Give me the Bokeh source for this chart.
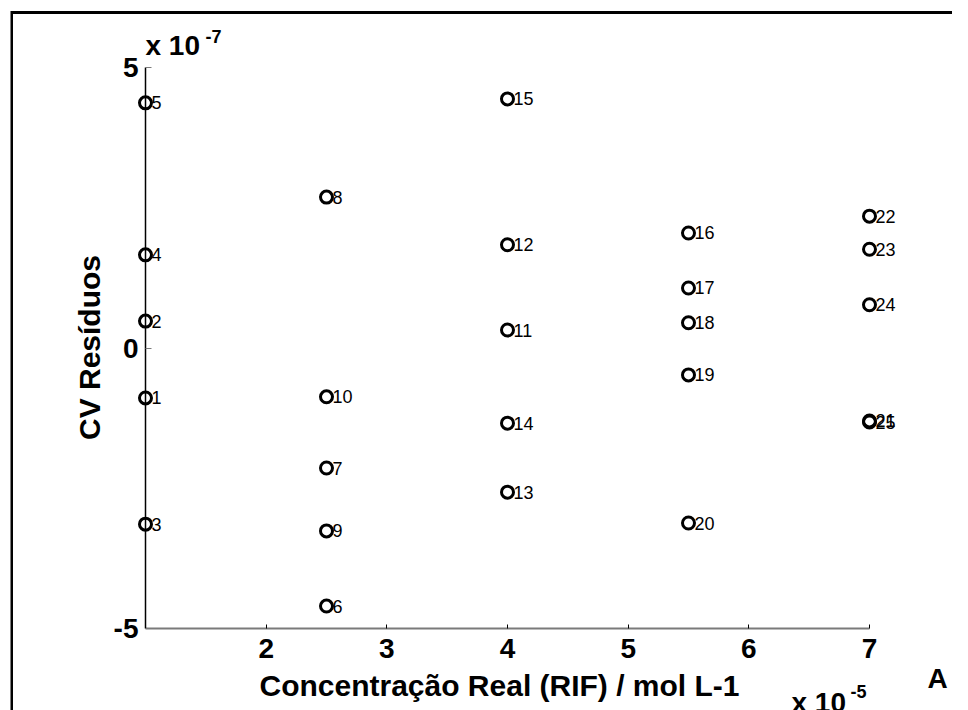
from bokeh.plotting import figure
from bokeh.models import Range1d, FixedTicker, Label, BoxAnnotation, ColumnDataSource
from bokeh.embed import file_html
from bokeh.resources import INLINE
from bokeh.core.properties import value
import math

# ---- data (x in units of 1e-5 mol L-1, residuals in units of 1e-7) ----
conc = [1, 1, 1, 1, 1,
        2.5, 2.5, 2.5, 2.5, 2.5,
        4, 4, 4, 4, 4,
        5.5, 5.5, 5.5, 5.5, 5.5,
        7, 7, 7, 7, 7]
resid = [-0.89, 0.48, -3.14, 1.66, 4.37,
         -4.60, -2.14, 2.69, -3.26, -0.87,
         0.32, 1.84, -2.57, -1.34, 4.44,
         2.05, 1.07, 0.45, -0.48, -3.12,
         -1.30, 2.35, 1.76, 0.77, -1.32]
point_ids = [str(i) for i in range(1, 26)]
x_ticks = [2, 3, 4, 5, 6, 7]
y_ticks = [-5, 0, 5]
y_tick_labels = {-5: "-5", 0: "0", 5: "5"}
x_label = "Concentração Real (RIF) / mol L-1"
y_label = "CV Resíduos"

# ---- layout: the frame fills the whole canvas, axes are placed at fixed data locations ----
W, H = 952, 710
xs = 724 / 6.0          # px per x unit
ys = 561 / 10.0         # px per y unit
X1_PX, Y0_PX = 145, 347.5

def dx(px):  # canvas px -> data x
    return 1 + (px - X1_PX) / xs

def dy(py):  # canvas py -> data y
    return (Y0_PX - py) / ys

FONT = "Liberation Sans"

p = figure(width=W, height=H, x_range=Range1d(dx(0), dx(W)), y_range=Range1d(dy(H), dy(0)),
           output_backend="svg", toolbar_location=None,
           min_border=0, min_border_left=0, min_border_right=0,
           min_border_top=0, min_border_bottom=0)
p.outline_line_color = None
p.grid.visible = False
p.background_fill_color = "white"
p.border_fill_color = "white"

# x axis
xa = p.xaxis[0]
xa.fixed_location = -5
xa.bounds = (1, 7)
xa.ticker = FixedTicker(ticks=x_ticks)
xa.major_tick_in = 4
xa.major_tick_out = 0
xa.minor_tick_line_color = None
xa.major_tick_line_color = "black"
xa.axis_line_color = "#7a7a7a"
xa.axis_line_width = 2
xa.major_label_text_font = FONT
xa.major_label_text_font_style = "bold"
xa.major_label_text_font_size = "28px"
xa.major_label_text_color = "black"
xa.major_label_standoff = 10

# y axis
ya = p.yaxis[0]
ya.fixed_location = 1
ya.bounds = (-5, 5)
ya.ticker = FixedTicker(ticks=y_ticks)
ya.major_label_overrides = y_tick_labels
ya.major_tick_in = 6
ya.major_tick_out = 0
ya.minor_tick_line_color = None
ya.major_tick_line_color = "#7a7a7a"
ya.axis_line_color = "black"
ya.axis_line_width = 1.5
ya.major_label_text_font = FONT
ya.major_label_text_font_style = "bold"
ya.major_label_text_font_size = "28px"
ya.major_label_text_color = "black"
ya.major_label_standoff = 7
ya.major_label_orientation = "horizontal"

src = ColumnDataSource(dict(x=conc, y=resid, t=point_ids))
p.scatter("x", "y", source=src, marker="circle", size=12, fill_color=None,
          line_color="black", line_width=3)
p.text("x", "y", text="t", source=src, x_offset=6, text_baseline="middle",
       text_align="left", text_font=value(FONT), text_font_size="18px",
       text_color="black")

def lab(txt, px, base_py, size_px, bold=True, align="left", angle=0, mid=None):
    # base_py: canvas y of the text baseline; the label is anchored at its middle
    py = mid if mid is not None else base_py - 0.35 * size_px
    p.add_layout(Label(x=dx(px), y=dy(py), text=txt, text_font=FONT,
                       text_font_size=f"{size_px}px",
                       text_font_style="bold" if bold else "normal",
                       text_align=align, text_baseline="middle", angle=angle,
                       text_color="black"))

lab("x 10", 145, 55, 28)
lab("-7", 205, 42, 18)
lab("x 10", 791, 712, 28)
lab("-5", 850, 697, 18)
lab("A", 927, 688, 28)
lab(x_label, 499, 695, 30, align="center")
lab(y_label, 89, None, 30, align="center", angle=math.pi / 2, mid=347)

# outer frame lines (top and left)
p.add_layout(BoxAnnotation(left=dx(10.5), right=dx(958), top=dy(10.5), bottom=dy(13.5),
                           fill_color="black", fill_alpha=1, line_color=None, line_alpha=0))
p.add_layout(BoxAnnotation(left=dx(10), right=dx(12.5), top=dy(10.5), bottom=dy(H + 20),
                           fill_color="black", fill_alpha=1, line_color=None, line_alpha=0))

open("out.html", "w").write(file_html(p, INLINE))
